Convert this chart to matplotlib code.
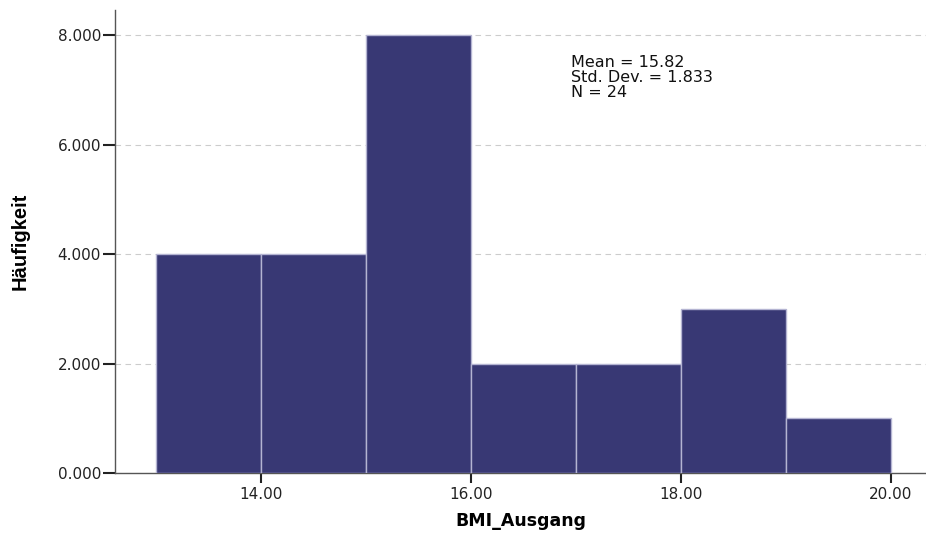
import matplotlib
matplotlib.use("Agg")
import matplotlib.pyplot as plt
import numpy as np

bin_edges = [13, 14, 15, 16, 17, 18, 19, 20]
counts = [4, 4, 8, 2, 2, 3, 1]
xticks = [14, 16, 18, 20]
yticks = [0, 2, 4, 6, 8]
stats_text = "Mean = 15.82\nStd. Dev. = 1.833\nN = 24"

plt.rcParams['font.family'] = ['DejaVu Sans']

fig = plt.figure(figsize=(9.26, 5.33), dpi=100)
ax = fig.add_axes([115/926, 1-473/533, 1-115/926, (473-10)/533])

widths = np.diff(bin_edges)
ax.bar(bin_edges[:-1], counts, width=widths, align='edge', color='#383874',
       edgecolor='#b4b4d2', linewidth=1.0, zorder=3)

ax.set_xlim(12.61, 20.333)
ax.set_ylim(0, 8.457)
ax.set_xticks(xticks)
ax.set_xticklabels([f"{v:.2f}" for v in xticks], fontsize=11, color='#222222')
ax.set_yticks(yticks)
ax.set_yticklabels([f"{v:.3f}" for v in yticks], fontsize=11, color='#222222')
ax.yaxis.grid(True, linestyle=(0, (5, 4)), color='#cccccc', linewidth=0.8, zorder=0)
for s in ['top', 'right']:
    ax.spines[s].set_visible(False)
for s in ['left', 'bottom']:
    ax.spines[s].set_color('#555555')
    ax.spines[s].set_linewidth(1.0)
ax.tick_params(axis='y', length=9, width=1.5, color='#222222', pad=1)
ax.tick_params(axis='x', length=7, width=1.5, color='#222222', pad=3)

ax.set_xlabel("BMI_Ausgang", fontsize=12.5, fontweight='bold', labelpad=7)
ax.set_ylabel("Häufigkeit", fontsize=14.5, fontweight='bold', labelpad=20,
              family=['Liberation Sans', 'DejaVu Sans'])

ax.text(571/926, 1-55/533, stats_text, transform=fig.transFigure, fontsize=11.5,
        va='top', ha='left', linespacing=1.0, color='#111111')

fig.savefig("out.png", dpi=100)
